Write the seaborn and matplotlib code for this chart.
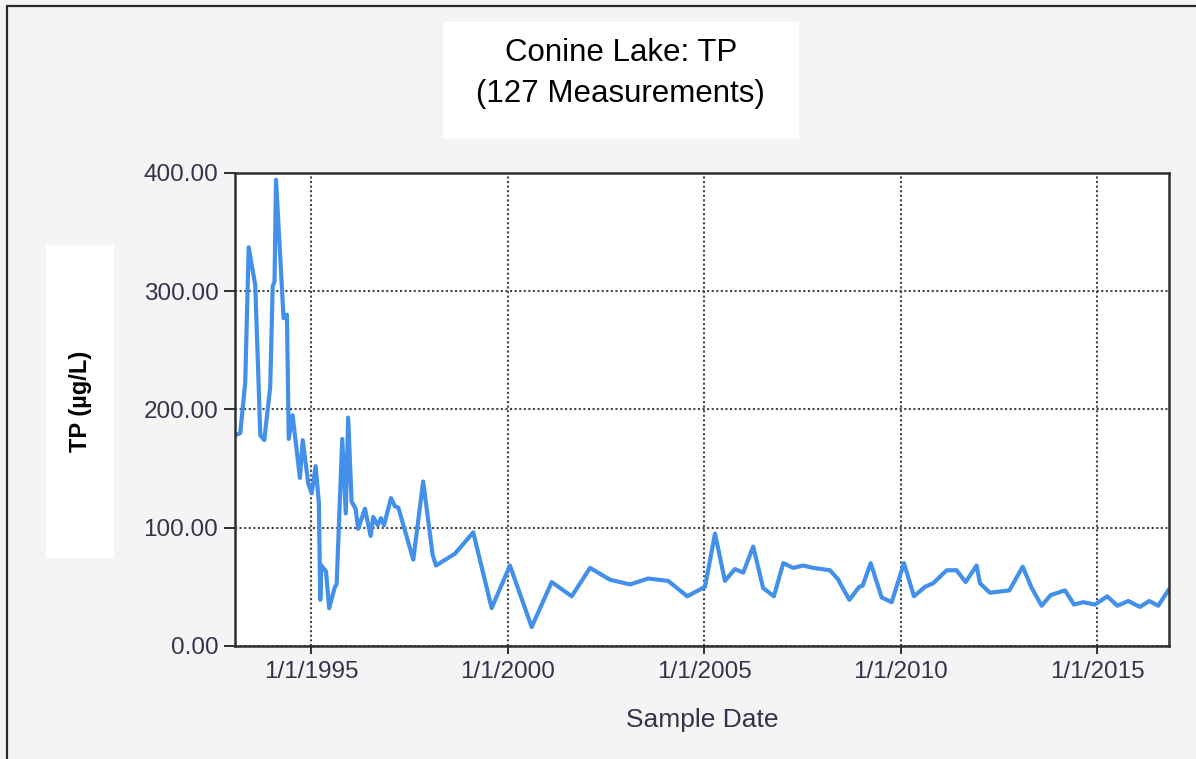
import matplotlib
matplotlib.use("Agg")
import matplotlib.pyplot as plt
import matplotlib.dates as mdates
from matplotlib.patches import Rectangle
from matplotlib.lines import Line2D
import pandas as pd
import seaborn as sns

# Conine Lake total phosphorus samples
sample_dates = [
    "1993-01-25", "1993-03-15", "1993-04-30", "1993-06-01", "1993-08-01",
    "1993-09-17", "1993-10-24", "1993-12-18", "1994-01-10", "1994-01-27",
    "1994-02-10", "1994-04-21", "1994-05-22", "1994-06-08", "1994-07-14",
    "1994-09-20", "1994-10-16", "1994-12-07", "1995-01-07", "1995-02-13",
    "1995-03-15", "1995-03-28", "1995-04-08", "1995-05-20", "1995-06-19",
    "1995-08-11", "1995-08-27", "1995-10-18", "1995-11-20", "1995-12-12",
    "1996-01-13", "1996-02-19", "1996-03-14", "1996-05-16", "1996-07-08",
    "1996-08-01", "1996-09-11", "1996-10-12", "1996-11-09", "1997-01-13",
    "1997-02-19", "1997-03-22", "1997-08-08", "1997-11-08", "1998-02-04",
    "1998-03-07", "1998-08-30", "1999-02-16", "1999-08-06", "2000-01-23",
    "2000-08-12", "2001-02-14", "2001-08-19", "2002-02-05", "2002-08-09",
    "2003-02-11", "2003-07-30", "2004-02-01", "2004-07-27", "2005-01-08",
    "2005-04-11", "2005-07-12", "2005-10-13", "2005-12-29", "2006-04-01",
    "2006-07-02", "2006-10-10", "2007-01-05", "2007-04-08", "2007-07-09",
    "2007-10-10", "2008-03-14", "2008-05-31", "2008-06-16", "2008-09-10",
    "2008-12-11", "2009-01-12", "2009-03-27", "2009-07-07", "2009-10-08",
    "2010-01-30", "2010-05-03", "2010-08-13", "2010-10-29", "2011-03-03",
    "2011-06-03", "2011-08-26", "2011-12-06", "2012-01-06", "2012-04-08",
    "2012-10-05", "2013-02-06", "2013-05-01", "2013-08-01", "2013-10-24",
    "2014-03-06", "2014-05-29", "2014-08-23", "2014-12-09", "2015-04-03",
    "2015-07-05", "2015-10-15", "2016-01-31", "2016-04-27", "2016-07-19",
    "2016-10-27",
]
tp_values = [
    178, 180, 223, 337, 305,
    178, 174, 219, 304, 308,
    394, 277, 280, 175, 195,
    142, 174, 137, 129, 152,
    121, 39, 68, 63, 32,
    50, 52, 175, 112, 193,
    122, 116, 99, 116, 93,
    109, 102, 108, 102, 125,
    118, 117, 73, 139, 77,
    68, 78, 96, 32, 68,
    16, 54, 42, 66, 56,
    52, 57, 55, 42, 50,
    95, 55, 65, 62, 84,
    49, 42, 70, 66, 68,
    66, 64, 56, 53, 39,
    50, 51, 70, 41, 37,
    70, 42, 50, 53, 64,
    64, 54, 68, 53, 45,
    47, 67, 49, 34, 43,
    47, 35, 37, 35, 42,
    34, 38, 33, 38, 34,
    48,
]
y_ticks = [0, 100, 200, 300, 400]
x_tick_years = [1995, 2000, 2005, 2010, 2015]

df = pd.DataFrame({"Sample Date": pd.to_datetime(sample_dates), "TP": tp_values})

sns.set_style("white")
plt.rcParams["font.family"] = ["Liberation Sans", "DejaVu Sans"]

fig = plt.figure(figsize=(11.96, 7.59), dpi=100, facecolor="#f4f4f4")
ax = fig.add_axes([0.1965, 0.1489, 0.7809, 0.6236])
ax.set_facecolor("white")

sns.lineplot(data=df, x="Sample Date", y="TP", ax=ax, estimator=None,
             color="#4390ea", linewidth=3.0)

ax.set_xlim(df["Sample Date"].min(), df["Sample Date"].max())
ax.set_ylim(0, 400)
ax.set_yticks(y_ticks)
ax.yaxis.set_major_formatter(plt.FuncFormatter(lambda v, _: f"{v:.2f}"))
ax.set_xticks(pd.to_datetime([f"{y}-01-01" for y in x_tick_years]))
ax.xaxis.set_major_formatter(plt.FuncFormatter(
    lambda v, _: (lambda d: f"{d.month}/{d.day}/{d.year}")(mdates.num2date(v))))

ax.grid(True, color="#454545", linestyle=(0, (1, 1.2)), linewidth=1.5)
for s in ax.spines.values():
    s.set_color("#303030")
    s.set_linewidth(1.8)
    s.set_visible(True)

ax.tick_params(axis="y", direction="out", length=8, width=1.4, color="#303030",
               labelsize=17.5, labelcolor="#33334a", pad=4, left=True)
ax.tick_params(axis="x", direction="out", length=6, width=1.4, color="#303030",
               labelsize=17.5, labelcolor="#33334a", pad=5, bottom=True)

ax.set_xlabel("Sample Date", fontsize=19, color="#33334a", labelpad=18)
ax.set_ylabel("")

# y-axis title in a white panel
fig.patches.append(Rectangle((0.0385, 0.2648), 0.0569, 0.4124, transform=fig.transFigure,
                             facecolor="white", edgecolor="none", zorder=0))
fig.text(0.0669, 0.4717, "TP (µg/L)", rotation=90, ha="center", va="center",
         fontsize=17, fontweight="bold", color="black")

# chart title in a white panel
fig.patches.append(Rectangle((0.3704, 0.8169), 0.2977, 0.1542, transform=fig.transFigure,
                             facecolor="white", edgecolor="none", zorder=0))
fig.text(0.519, 0.930, "Conine Lake: TP", ha="center", va="center", fontsize=22.5, color="black")
fig.text(0.519, 0.876, "(127 Measurements)", ha="center", va="center", fontsize=22.5, color="black")

# frame lines along the top and left edges
fig.add_artist(Line2D([0.0055, 1.0], [0.9921, 0.9921], transform=fig.transFigure,
                      color="#2a2a2a", linewidth=1.6))
fig.add_artist(Line2D([0.0058, 0.0058], [0.0, 0.9921], transform=fig.transFigure,
                      color="#2a2a2a", linewidth=1.6))

fig.savefig("out.png", dpi=100, facecolor=fig.get_facecolor())
